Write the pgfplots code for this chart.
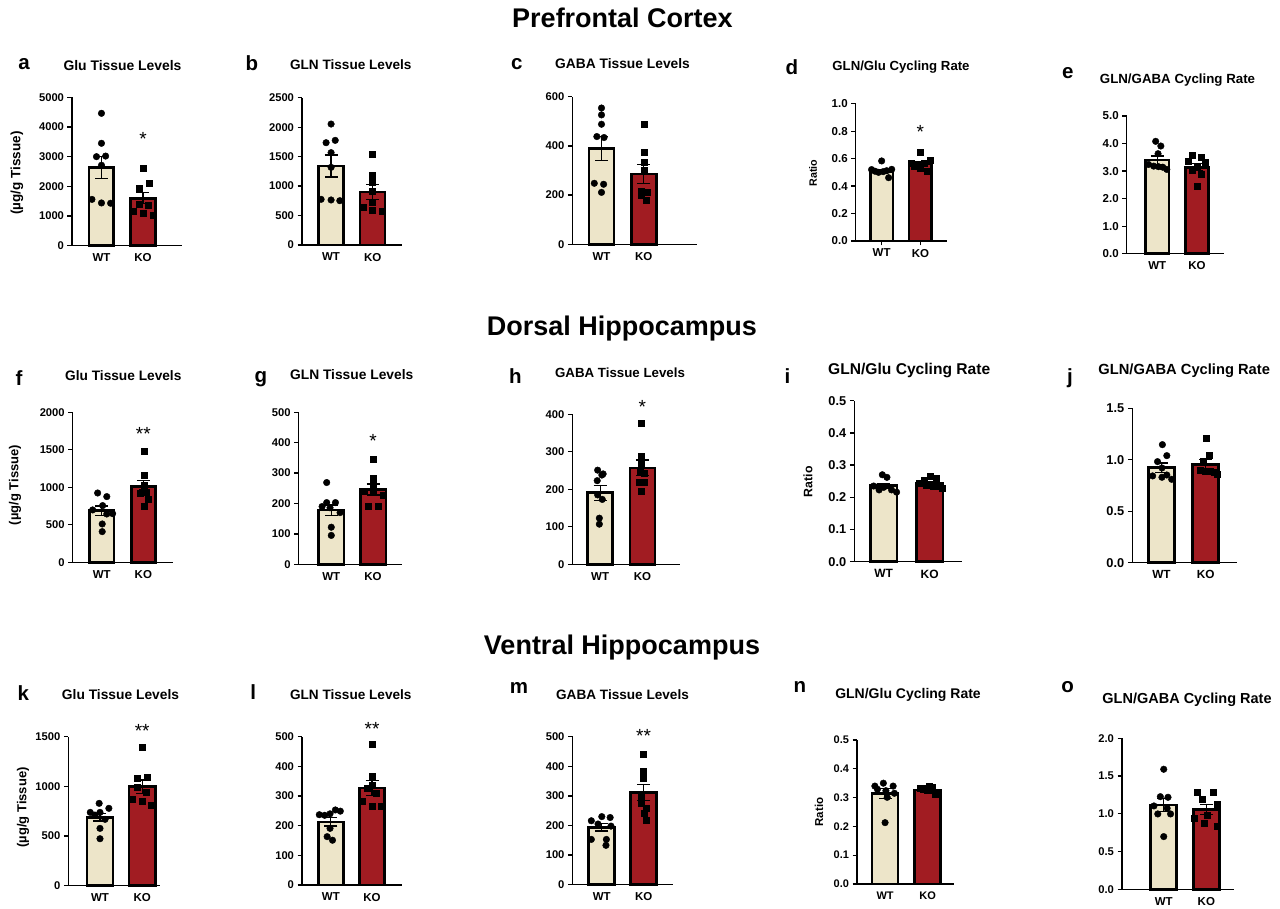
\documentclass[border=0pt]{standalone}
\usepackage{fontspec}
\setmainfont{Liberation Sans}
\usepackage{pgfplots}
\pgfplotsset{compat=1.18}
\definecolor{wtc}{RGB}{237,229,201}
\definecolor{koc}{RGB}{161,28,34}
\newcommand\fs[1]{\bfseries\fontsize{#1}{#1}\selectfont}
\pgfplotsset{
  panel/.style={
    scale only axis, anchor=south west, axis lines*=left,
    axis line style={line width=1.3pt, black},
    ymin=0, xtick={0,1}, xticklabels={WT,KO},
    tick align=outside, major tick length=4.5pt,
    every tick/.style={line width=1.3pt, black},
    xtick style={draw=none},
    tick label style={font=\fs{11.2}, black},
    xticklabel style={font=\fs{11.5}},
    /pgf/number format/assume math mode=true,
    /pgf/number format/1000 sep={},
    clip=false,
  },
  dec/.style={/pgf/number format/fixed, /pgf/number format/fixed zerofill, /pgf/number format/precision=1},
  tfs/.style={yticklabel style={font=\fs{#1}}},
}
\newcommand\bars[5]{%
\addplot[ybar, bar width=#5pt, bar shift=0pt, fill=wtc, draw=black, line width=2.6pt,
  error bars/.cd, y dir=both, y explicit, error bar style={line width=1.3pt,black},
  error mark options={rotate=90, line width=1.3pt, black, mark size=6.5pt}] coordinates {(0,#1) +- (0,#2)};
\addplot[ybar, bar width=#5pt, bar shift=0pt, fill=koc, draw=black, line width=2.6pt,
  error bars/.cd, y dir=both, y explicit, error bar style={line width=1.3pt,black},
  error mark options={rotate=90, line width=1.3pt, black, mark size=6.5pt}] coordinates {(1,#3) +- (0,#4)};}
\newcommand\wtpts[1]{\addplot[only marks, mark=*, mark size=3.3pt, black] coordinates {#1};}
\newcommand\kopts[1]{\addplot[only marks, mark=square*, mark size=3pt, black] coordinates {#1};}
\newcommand\sig[2]{\node[font=\fontsize{19}{19}\selectfont, yshift=-4pt] at (axis cs:1,#1) {#2};}
\begin{document}
\begin{tikzpicture}
\useasboundingbox (0pt,0pt) rectangle (1280pt,908pt);
% section titles
\node[anchor=base, font=\fs{27}] at (622.5pt,880pt) {Prefrontal Cortex};
\node[anchor=base, font=\fs{27}] at (622pt,572pt) {Dorsal Hippocampus};
\node[anchor=base, font=\fs{27}] at (622pt,253pt) {Ventral Hippocampus};
% letters
\foreach \l/\x/\y in {a/24/838.7, b/252/837.3, c/516.7/838, d/792/833, e/1067.8/829.7,
  f/19/522, g/261/525.3, h/515.3/524, i/787.5/524, j/1070/524.7,
  k/23.3/207.3, l/253.3/208, m/519/214, n/800/215, o/1067.5/215.3}
  \node[anchor=base, font=\fs{20.5}] at (\x pt,\y pt) {\l};
% titles
\node[anchor=base, font=\fs{13.9}] at (122.5pt,837.3pt) {Glu Tissue Levels};
\node[anchor=base, font=\fs{13.6}] at (350.8pt,838pt) {GLN Tissue Levels};
\node[anchor=base, font=\fs{13.8}] at (622.5pt,839pt) {GABA Tissue Levels};
\node[anchor=base, font=\fs{13.2}] at (901pt,837.3pt) {GLN/Glu Cycling Rate};
\node[anchor=base, font=\fs{13.3}] at (1177.5pt,824pt) {GLN/GABA Cycling Rate};
\node[anchor=base, font=\fs{13.7}] at (123.3pt,527.3pt) {Glu Tissue Levels};
\node[anchor=base, font=\fs{13.8}] at (351.7pt,528.7pt) {GLN Tissue Levels};
\node[anchor=base, font=\fs{13.3}] at (620pt,530.7pt) {GABA Tissue Levels};
\node[anchor=base, font=\fs{15.6}] at (909.2pt,533pt) {GLN/Glu Cycling Rate};
\node[anchor=base, font=\fs{14.7}] at (1184.2pt,533pt) {GLN/GABA Cycling Rate};
\node[anchor=base, font=\fs{13.8}] at (120.5pt,208pt) {Glu Tissue Levels};
\node[anchor=base, font=\fs{13.6}] at (350.8pt,208pt) {GLN Tissue Levels};
\node[anchor=base, font=\fs{13.6}] at (622.5pt,208.7pt) {GABA Tissue Levels};
\node[anchor=base, font=\fs{14}] at (908pt,209.7pt) {GLN/Glu Cycling Rate};
\node[anchor=base, font=\fs{14.5}] at (1187pt,204.7pt) {GLN/GABA Cycling Rate};
% y labels
\node[rotate=90, font=\fs{13.5}] at (17pt,735pt) {(µg/g Tissue)};
\node[rotate=90, font=\fs{13}] at (15pt,423pt) {(µg/g Tissue)};
\node[rotate=90, font=\fs{13}] at (23pt,100.5pt) {(µg/g Tissue)};
\node[rotate=90, font=\fs{10.7}] at (813pt,735pt) {Ratio};
\node[rotate=90, font=\fs{12.3}] at (808pt,426.3pt) {Ratio};
\node[rotate=90, font=\fs{11.5}] at (819pt,96pt) {Ratio};

% a
\begin{axis}[panel, at={(72pt,662.3pt)}, width=110pt, height=148.4pt, xmin=-0.71, xmax=1.94, ymax=5000, ytick={0,1000,2000,3000,4000,5000}]
\bars{2635}{365}{1600}{190}{24.6}
\wtpts{(0,4460)(0,3450)(-0.12,3000)(0.10,3020)(0,2710)(-0.23,1560)(0,1440)(0.22,1430)}
\kopts{(1,2620)(1.14,2100)(0.91,1940)(0.91,1390)(1.13,1360)(0.77,1160)(1,1090)(1.25,1030)}
\sig{3730}{*}
\end{axis}
% b
\begin{axis}[panel, at={(302pt,663pt)}, width=99.7pt, height=147.3pt, xmin=-0.70, xmax=1.70, ymax=2500, ytick={0,500,1000,1500,2000,2500}]
\bars{1340}{185}{897}{125}{25}
\wtpts{(0,2053)(-0.12,1736)(0.10,1776)(0,1567)(0,1318)(-0.24,775)(0,764)(0.21,752)}
\kopts{(1,1538)(1,1182)(1,1058)(1,916)(1,724)(0.78,639)(1,588)(1.22,566)}
\end{axis}
% c
\begin{axis}[panel, at={(572.3pt,663.7pt)}, width=124.4pt, height=147.6pt, xmin=-0.69, xmax=2.25, ymax=600, ytick={0,200,400,600}]
\bars{390}{49}{286}{38}{25}
\wtpts{(0,554)(0,526)(0,488)(-0.11,438)(0.06,434)(-0.17,248)(0.05,244)(0,211)}
\kopts{(1,489)(1,374)(1,332)(1,302)(0.94,214)(1.07,210)(0.95,200)(1.06,179)}
\end{axis}
% d
\begin{axis}[panel, dec, tfs=11.5, xtick style={draw=black}, at={(855.7pt,667pt)}, width=91pt, height=137.3pt, xmin=-0.67, xmax=1.68, ymax=1.0, ytick={0,0.2,0.4,0.6,0.8,1.0}]
\bars{0.507}{0.013}{0.563}{0.015}{22.6}
\wtpts{(0,0.583)(-0.26,0.520)(-0.17,0.508)(-0.08,0.500)(0.04,0.505)(0.13,0.512)(0.26,0.522)(0.18,0.461)}
\kopts{(1,0.646)(1.25,0.587)(0.77,0.566)(1.09,0.570)(0.84,0.545)(1,0.530)(1.17,0.510)(0.92,0.555)}
\sig{0.825}{*}
\end{axis}
% e
\begin{axis}[panel, dec, tfs=11.5, at={(1126.7pt,654.3pt)}, width=97.6pt, height=137.7pt, xmin=-0.77, xmax=1.69, ymax=5.0, ytick={0,1,2,3,4,5}]
\bars{3.40}{0.15}{3.14}{0.13}{23.3}
\wtpts{(-0.04,4.08)(0.09,3.91)(0.02,3.63)(-0.22,3.24)(-0.09,3.18)(0.03,3.16)(0.14,3.14)(0.24,3.06)}
\kopts{(0.89,3.57)(1.12,3.50)(0.79,3.35)(1.22,3.33)(1,3.16)(0.89,3.04)(1.11,2.88)(1.01,2.46)}
\end{axis}
% f
\begin{axis}[panel, at={(72.7pt,345.7pt)}, width=100.6pt, height=150pt, xmin=-0.70, xmax=1.72, ymax=2000, ytick={0,500,1000,1500,2000}]
\bars{690}{62}{1008}{80}{24.3}
\wtpts{(-0.10,924)(0.12,876)(0.02,756)(-0.22,698)(0.12,644)(0.26,649)(0.01,511)(0.01,409)}
\kopts{(1.02,1484)(1.02,1164)(1.02,1027)(0.96,933)(1.08,933)(1.12,844)(1.02,751)(0.92,920)}
\sig{1764}{**}
\end{axis}
% g
\begin{axis}[panel, at={(298.7pt,343.7pt)}, width=103.6pt, height=152pt, xmin=-0.78, xmax=1.70, ymax=500, ytick={0,100,200,300,400,500}]
\bars{178}{17}{246}{18}{25.6}
\wtpts{(-0.11,269)(-0.11,203)(0.10,203)(-0.22,190)(-0.03,186)(0.21,170)(0,122)(0,95)}
\kopts{(1,346)(1,283)(1,259)(0.79,242)(1,236)(1.25,228)(0.89,192)(1.13,192)}
\sig{418}{*}
\end{axis}
% h
\begin{axis}[panel, at={(572.3pt,343.7pt)}, width=107.7pt, height=150pt, xmin=-0.66, xmax=1.89, ymax=400, ytick={0,100,200,300,400}]
\bars{191}{20}{257}{21}{25}
\wtpts{(-0.06,251)(0.04,238)(0.07,241)(-0.07,223)(-0.06,185)(0.05,173)(-0.02,123)(-0.02,107)}
\kopts{(0.98,376)(0.98,289)(0.98,270)(0.94,249)(1.04,243)(0.93,218)(1.05,218)(0.98,195)}
\sig{430}{*}
\end{axis}
% i
\begin{axis}[panel, dec, tfs=12.8, at={(854.3pt,346.3pt)}, width=108pt, height=161pt, xmin=-0.64, xmax=1.71, ymax=0.5, ytick={0,0.1,0.2,0.3,0.4,0.5}, xticklabel style={font=\fs{12}}]
\bars{0.236}{0.007}{0.243}{0.006}{26.6}
\wtpts{(-0.03,0.270)(0.07,0.262)(-0.22,0.235)(-0.12,0.233)(0,0.231)(-0.10,0.223)(0.17,0.223)(0.28,0.216)}
\kopts{(1.02,0.266)(1.15,0.258)(0.88,0.254)(0.78,0.245)(0.93,0.238)(1.08,0.233)(1.22,0.233)(1.28,0.227)}
\end{axis}
% j
\begin{axis}[panel, dec, tfs=12.8, at={(1132.3pt,345.3pt)}, width=104.4pt, height=154.4pt, xmin=-0.66, xmax=1.70, ymax=1.5, ytick={0,0.5,1.0,1.5}, xticklabel style={font=\fs{11.8}}]
\bars{0.923}{0.045}{0.956}{0.048}{26}
\wtpts{(0.02,1.147)(0.12,1.040)(-0.09,0.982)(0.01,0.920)(-0.20,0.843)(0.01,0.830)(0.12,0.852)(0.23,0.810)}
\kopts{(1.01,1.209)(1.08,1.040)(0.95,0.982)(0.87,0.901)(0.99,0.885)(1.10,0.885)(1.20,0.875)(1.27,0.862)}
\end{axis}
% k
\begin{axis}[panel, at={(68.3pt,22.3pt)}, width=91.7pt, height=149pt, xmin=-0.75, xmax=1.42, ymax=1500, ytick={0,500,1000,1500}]
\bars{688}{37}{997}{66}{26.3}
\wtpts{(-0.02,829)(-0.23,738)(0,738)(0.21,779)(-0.12,711)(0.12,668)(0,577)(0,473)}
\kopts{(1.01,1393)(0.88,1087)(1.12,1091)(0.88,993)(1.10,940)(0.77,872)(1,846)(1.22,809)}
\sig{1601}{**}
\end{axis}
% l
\begin{axis}[panel, at={(302pt,23pt)}, width=99.7pt, height=148.3pt, xmin=-0.70, xmax=1.72, ymax=500, ytick={0,100,200,300,400,500}]
\bars{213}{14}{327}{25}{24.8}
\wtpts{(-0.28,237)(-0.15,235)(-0.02,240)(0.11,253)(0.23,249)(-0.02,191)(-0.09,163)(0.04,151)}
\kopts{(1.01,474)(1.01,366)(1.01,335)(0.89,326)(1.10,309)(0.77,282)(1.01,267)(1.23,266)}
\sig{541}{**}
\end{axis}
% m
\begin{axis}[panel, at={(572.5pt,23.3pt)}, width=100pt, height=148pt, xmin=-0.70, xmax=1.69, ymax=500, ytick={0,100,200,300,400,500}]
\bars{194}{13}{312}{27}{26}
\wtpts{(-0.25,216)(0,230)(0.20,227)(0.22,198)(-0.09,205)(-0.25,153)(0.11,153)(0.10,133)}
\kopts{(1,441)(1,384)(1,359)(0.94,300)(0.95,277)(1.06,258)(1.01,241)(1.06,218)}
\sig{517}{**}
\end{axis}
% n
\begin{axis}[panel, dec, tfs=11, at={(857pt,24pt)}, width=96.5pt, height=144pt, xmin=-0.66, xmax=1.61, ymax=0.5, ytick={0,0.1,0.2,0.3,0.4,0.5}, xticklabel style={font=\fs{11}}]
\bars{0.314}{0.017}{0.326}{0.005}{26}
\wtpts{(-0.04,0.350)(-0.24,0.340)(0.19,0.340)(-0.18,0.329)(0.02,0.324)(0.22,0.315)(0.05,0.301)(0,0.213)}
\kopts{(0.82,0.332)(0.95,0.334)(1.04,0.338)(1.12,0.336)(1.19,0.312)(1,0.325)(1.1,0.325)(0.9,0.328)}
\end{axis}
% o
\begin{axis}[panel, dec, tfs=11.2, at={(1122pt,18.7pt)}, width=112pt, height=151pt, xmin=-0.98, xmax=1.65, ymax=2.0, ytick={0,0.5,1.0,1.5,2.0}]
\bars{1.117}{0.085}{1.060}{0.065}{26}
\wtpts{(0,1.59)(-0.08,1.227)(0.10,1.219)(-0.23,1.104)(0.08,1.073)(-0.14,0.998)(0.16,0.998)(0,0.698)}
\kopts{(0.78,1.28)(1.15,1.28)(0.90,1.20)(1.25,1.13)(0.71,0.94)(1.01,0.985)(1.25,0.84)(0.94,0.874)}
\end{axis}
\end{tikzpicture}
\end{document}
